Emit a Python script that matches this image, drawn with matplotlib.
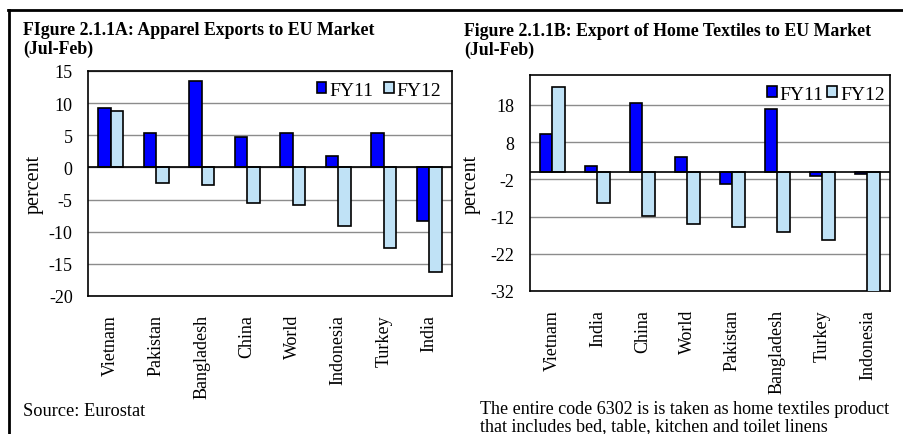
import matplotlib
matplotlib.use('Agg')

import numpy as np
import matplotlib.pyplot as plt
from matplotlib.lines import Line2D

plt.rcParams['font.family'] = ['Liberation Serif', 'DejaVu Serif']
plt.rcParams['axes.unicode_minus'] = False

# data
apparel_countries = ['Vietnam', 'Pakistan', 'Bangladesh', 'China', 'World',
                     'Indonesia', 'Turkey', 'India']
apparel_fy11 = [9.3, 5.3, 13.4, 4.8, 5.3, 1.8, 5.3, -8.4]
apparel_fy12 = [8.8, -2.4, -2.7, -5.6, -5.9, -9.1, -12.6, -16.3]

textile_countries = ['Vietnam', 'India', 'China', 'World', 'Pakistan',
                     'Bangladesh', 'Turkey', 'Indonesia']
textile_fy11 = [10.2, 1.6, 18.4, 4.0, -3.4, 16.8, -1.2, -0.7]
textile_fy12 = [22.7, -8.3, -11.9, -13.9, -14.8, -16.1, -18.4, -33.0]

W, H = 904, 435
fig = plt.figure(figsize=(W / 100, H / 100), dpi=100)

blue = '#0000FF'
light = '#C0E2F6'
bw = 0.27


def draw(ax, cats, a, b, ylim, yticks, colspace, anchor):
    x = np.arange(len(cats))
    ax.set_axisbelow(True)
    ax.bar(x - bw / 2, a, bw, color=blue, edgecolor='black', lw=1.2, label='FY11', zorder=3)
    ax.bar(x + bw / 2, b, bw, color=light, edgecolor='black', lw=1.2, label='FY12', zorder=3)
    ax.axhline(0, color='black', lw=1.2, zorder=4)
    ax.set_xlim(-0.5, len(cats) - 0.5)
    ax.set_ylim(*ylim)
    ax.set_yticks(yticks)
    ax.grid(axis='y', color='#8c8c8c', lw=1)
    ax.set_xticks(x)
    ax.set_xticklabels(cats, rotation=90, fontsize=13.5)
    ax.tick_params(length=0, labelsize=13)
    ax.tick_params(axis='y', pad=11)
    ax.tick_params(axis='x', pad=13)
    for s in ax.spines.values():
        s.set_linewidth(1.2)
    ax.set_ylabel('percent', fontsize=14.5)
    ax.legend(loc='upper right', bbox_to_anchor=anchor, ncol=2, frameon=False,
              fontsize=14, handlelength=0.5, handleheight=0.5, handletextpad=0.15,
              columnspacing=colspace, borderaxespad=0.25, borderpad=0.3)


ax1 = fig.add_axes([88 / W, (H - 297) / H, 364 / W, 225 / H])
draw(ax1, apparel_countries, apparel_fy11, apparel_fy12, (-20, 15),
     [-20, -15, -10, -5, 0, 5, 10, 15], 0.55, (1, 1))
ax1.yaxis.set_label_coords(-0.122, 0.5)

ax2 = fig.add_axes([530 / W, (H - 292) / H, 360 / W, 216 / H])
draw(ax2, textile_countries, textile_fy11, textile_fy12, (-32, 26),
     [-32, -22, -12, -2, 8, 18], 0.2, (1.015, 1))
ax2.yaxis.set_label_coords(-0.138, 0.5)

fig.text(23 / W, 1 - 40 / H, 'FIgure 2.1.1A: Apparel Exports to EU Market\n(Jul-Feb)',
         fontsize=12.8, fontweight='bold', va='center', linespacing=1.1)
fig.text(464 / W, 1 - 41 / H, 'Figure 2.1.1B: Export of Home Textiles to EU Market\n(Jul-Feb)',
         fontsize=12.8, fontweight='bold', va='center', linespacing=1.1)
fig.text(23 / W, 1 - 412 / H, 'Source: Eurostat', fontsize=13.2, va='center')
fig.text(480 / W, 1 - 418 / H,
         'The entire code 6302 is is taken as home textiles product\n'
         'that includes bed, table, kitchen and toilet linens',
         fontsize=13, va='center', linespacing=1.05)

fig.add_artist(Line2D([8 / W, 1], [1 - 10.5 / H] * 2, color='black', lw=2))
fig.add_artist(Line2D([9 / W] * 2, [0, 1 - 10.5 / H], color='black', lw=2))

fig.savefig('out.png', dpi=100)
